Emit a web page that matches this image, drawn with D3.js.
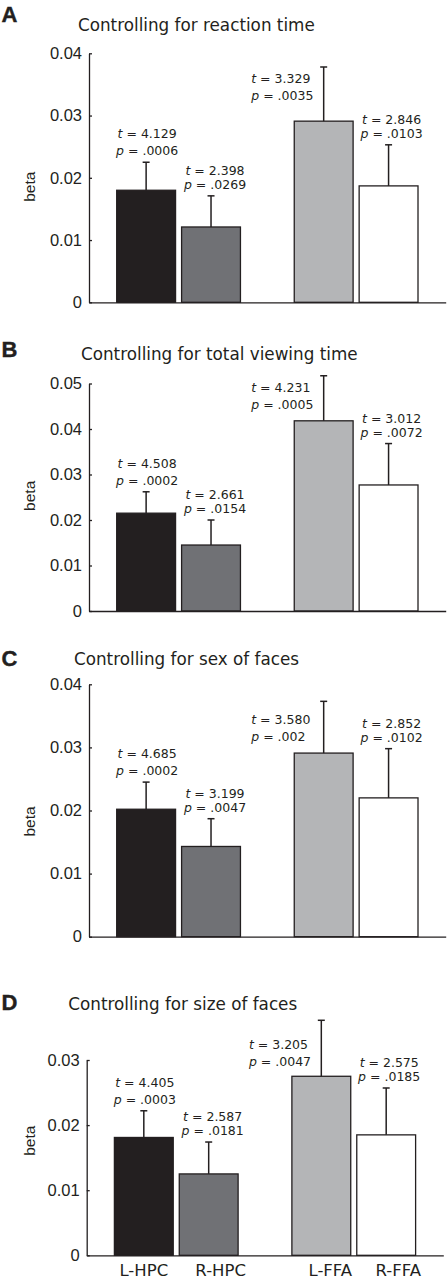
<!DOCTYPE html>
<html>
<head>
<meta charset="utf-8">
<script src="https://cdn.jsdelivr.net/npm/d3@7"></script>
<style>
  html, body { margin: 0; padding: 0; background: #fff; }
  svg { display: block; }
</style>
</head>
<body>
<div id="chart"></div>
<script>
// ---------- data ----------
const categories = ["L-HPC", "R-HPC", "L-FFA", "R-FFA"];
const groups = ["HPC", "FFA"];
const sides = ["L", "R"];
const panelLetters = ["A", "B", "C", "D"];
const panelTitles = [
  "Controlling for reaction time",
  "Controlling for total viewing time",
  "Controlling for sex of faces",
  "Controlling for size of faces"
];
const betaA = [0.0180, 0.0121, 0.0291, 0.0187];
const seA   = [0.0045, 0.0050, 0.0087, 0.0066];
const betaB = [0.0215, 0.0145, 0.0418, 0.0277];
const seB   = [0.0047, 0.0055, 0.0099, 0.0091];
const betaC = [0.0202, 0.0143, 0.0291, 0.0220];
const seC   = [0.0043, 0.0044, 0.0082, 0.0078];
const betaD = [0.0181, 0.0125, 0.0275, 0.0185];
const seD   = [0.0041, 0.0049, 0.0086, 0.0072];
const tA = ["4.129", "2.398", "3.329", "2.846"];
const pA = [".0006", ".0269", ".0035", ".0103"];
const tB = ["4.508", "2.661", "4.231", "3.012"];
const pB = [".0002", ".0154", ".0005", ".0072"];
const tC = ["4.685", "3.199", "3.580", "2.852"];
const pC = [".0002", ".0047", ".002", ".0102"];
const tD = ["4.405", "2.587", "3.205", "2.575"];
const pD = [".0003", ".0181", ".0047", ".0185"];
const ticksA = [0, 0.01, 0.02, 0.03, 0.04];
const ticksB = [0, 0.01, 0.02, 0.03, 0.04, 0.05];
const ticksC = [0, 0.01, 0.02, 0.03, 0.04];
const ticksD = [0, 0.01, 0.02, 0.03];
const yLabel = "beta";

// ---------- layout (styling/positions only) ----------
const panels = [
  { beta: betaA, se: seA, t: tA, p: pA, ticks: ticksA, x0: 89, x1: 445.7, yZero: 302.3, yTop: 53.3,
    titleX: 78, titleY: 30.5, letterY: 21.7, betaY: 186.7, ffaDy: -21, showX: false },
  { beta: betaB, se: seB, t: tB, p: pB, ticks: ticksB, x0: 89, x1: 445.7, yZero: 611, yTop: 383.5,
    titleX: 81, titleY: 360, letterY: 356.5, betaY: 495.8, ffaDy: -12, showX: false },
  { beta: betaC, se: seC, t: tC, p: pC, ticks: ticksC, x0: 89, x1: 445.7, yZero: 936.7, yTop: 684.3,
    titleX: 74, titleY: 665, letterY: 666, betaY: 821.5, ffaDy: -12, showX: false },
  { beta: betaD, se: seD, t: tD, p: pD, ticks: ticksD, x0: 86.7, x1: 443.3, yZero: 1255.3, yTop: 1060,
    titleX: 68.3, titleY: 1010, letterY: 1010, betaY: 1140.7, ffaDy: -10, showX: true }
];
const fills = ["#231f20", "#707175", "#b4b5b7", "#ffffff"];
const ink = "#231f20";
const labelShift = [1, 4, 0, 3];
const xLabelShift = [0, 12, 9, 12];

const W = 448, H = 1280;
const svg = d3.select("#chart").append("svg")
  .attr("width", W).attr("height", H)
  .attr("viewBox", `0 0 ${W} ${H}`);

panels.forEach((P, pi) => {
  const g = svg.append("g");
  const yMax = P.ticks[P.ticks.length - 1];
  const y = d3.scaleLinear().domain([0, yMax]).range([P.yZero, P.yTop]);

  const xGroup = d3.scaleBand().domain(groups).range([P.x0, P.x1])
    .paddingInner(0.303).paddingOuter(0.156);
  const xSide = d3.scaleBand().domain(sides).range([0, xGroup.bandwidth()])
    .paddingInner(0.093).paddingOuter(0);
  const barX = i => xGroup(groups[Math.floor(i / 2)]) + xSide(sides[i % 2]);
  const bw = xSide.bandwidth();

  const rows = categories.map((c, i) => ({
    cat: c, i, v: P.beta[i], se: P.se[i], t: P.t[i], p: P.p[i]
  }));

  // panel letter
  g.append("text").attr("x", 1.5).attr("y", P.letterY)
    .attr("font-family", "Liberation Sans, Arial, sans-serif")
    .attr("font-weight", "bold").attr("font-size", 22).attr("fill", ink)
    .attr("stroke", ink).attr("stroke-width", 0.4)
    .text(panelLetters[pi]);

  // title
  g.append("text").attr("x", P.titleX).attr("y", P.titleY)
    .attr("font-family", "DejaVu Sans, Verdana, sans-serif")
    .attr("font-size", 16.8).attr("fill", ink)
    .text(panelTitles[pi]);

  // bars
  g.selectAll("rect.bar").data(rows).join("rect")
    .attr("class", "bar")
    .attr("x", d => barX(d.i))
    .attr("y", d => y(d.v))
    .attr("width", bw)
    .attr("height", d => y(0) - y(d.v))
    .attr("fill", d => fills[d.i])
    .attr("stroke", ink).attr("stroke-width", 1.3);

  // error bars
  const eb = g.selectAll("g.err").data(rows).join("g").attr("class", "err")
    .attr("stroke", ink).attr("stroke-width", 1.5);
  eb.append("line")
    .attr("x1", d => barX(d.i) + bw / 2).attr("x2", d => barX(d.i) + bw / 2)
    .attr("y1", d => y(d.v)).attr("y2", d => y(d.v + d.se));
  eb.append("line")
    .attr("x1", d => barX(d.i) + bw / 2 - 3.5).attr("x2", d => barX(d.i) + bw / 2 + 3.5)
    .attr("y1", d => y(d.v + d.se)).attr("y2", d => y(d.v + d.se));

  // axes
  const yAxis = d3.axisLeft(y).tickValues(P.ticks)
    .tickSizeInner(-3).tickSizeOuter(0).tickPadding(7)
    .tickFormat(d => d === 0 ? "0" : d.toFixed(2));
  const ya = g.append("g").attr("transform", `translate(${P.x0},0)`).call(yAxis);
  ya.selectAll("path, line").attr("stroke", ink).attr("stroke-width", 1.3);
  ya.selectAll("text").attr("font-family", "Liberation Sans, Arial, sans-serif")
    .attr("font-size", 16.5).attr("fill", ink);

  const xAxis = d3.axisBottom(d3.scaleLinear().range([P.x0, P.x1])).tickValues([]).tickSizeOuter(0);
  const xa = g.append("g").attr("transform", `translate(0,${P.yZero})`).call(xAxis);
  xa.selectAll("path").attr("stroke", ink).attr("stroke-width", 1.3);

  // y label
  g.append("text")
    .attr("transform", `translate(35,${P.betaY}) rotate(-90)`)
    .attr("text-anchor", "middle")
    .attr("font-family", "Liberation Sans, Arial, sans-serif")
    .attr("font-size", 15.5).attr("fill", ink)
    .text(yLabel);

  // annotations
  rows.forEach(d => {
    const cx = barX(d.i) + bw / 2;
    let pyBase, tyBase, x, anchor;
    if (d.i === 2) {
      pyBase = y(d.v) + P.ffaDy;
      tyBase = pyBase - 17;
      x = barX(d.i) - 43;
      anchor = "start";
    } else {
      pyBase = y(d.v + d.se) - 7;
      tyBase = pyBase - (d.i === 0 ? 17 : 14);
      x = cx + labelShift[d.i];
      anchor = "middle";
    }
    const font = "DejaVu Sans, Verdana, sans-serif";
    const t1 = g.append("text").attr("x", x).attr("y", tyBase)
      .attr("text-anchor", anchor).attr("font-family", font)
      .attr("font-size", 12.5).attr("fill", ink);
    t1.append("tspan").attr("font-style", "italic").text("t");
    t1.append("tspan").text(" = " + d.t);
    const t2 = g.append("text").attr("x", x).attr("y", pyBase)
      .attr("text-anchor", anchor).attr("font-family", font)
      .attr("font-size", 12.5).attr("fill", ink);
    t2.append("tspan").attr("font-style", "italic").text("p");
    t2.append("tspan").text(" = " + d.p);
  });

  // category labels
  if (P.showX) {
    g.selectAll("text.cat").data(rows).join("text")
      .attr("class", "cat")
      .attr("x", d => barX(d.i) + bw / 2 + xLabelShift[d.i])
      .attr("y", P.yZero + 20.5)
      .attr("text-anchor", "middle")
      .attr("font-family", "DejaVu Sans, Verdana, sans-serif")
      .attr("font-size", 16.5).attr("fill", ink)
      .text(d => d.cat);
  }
});
</script>
</body>
</html>
